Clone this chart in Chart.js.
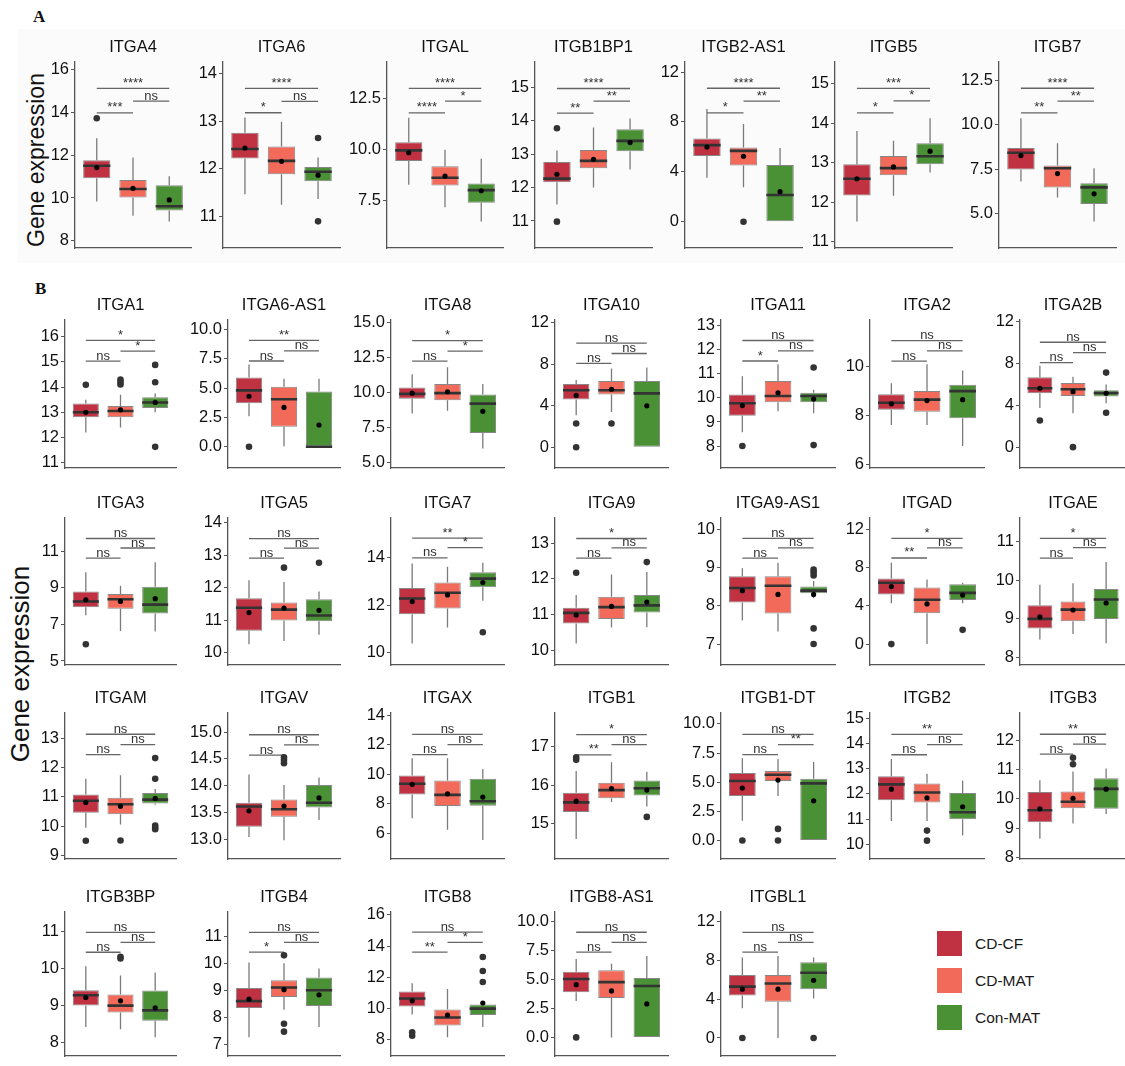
<!DOCTYPE html>
<html>
<head>
<meta charset="utf-8">
<script src="https://cdn.jsdelivr.net/npm/chart.js@4.4.1/dist/chart.umd.min.js"></script>
<style>
  body { margin: 0; background: #fff; width: 1125px; height: 1066px; position: relative; overflow: hidden;
         font-family: "Liberation Sans", Arial, sans-serif; color: #1a1a1a; }
  .panel { position: absolute; }
  .tag { position: absolute; font: bold 17px "Liberation Serif", "Times New Roman", serif; color: #111; }
  .ylab { position: absolute; white-space: nowrap; transform: translate(-50%, -50%) rotate(-90deg); color: #111; }
  .band { position: absolute; left: 18px; top: 29px; width: 1107px; height: 234px; background: #fbfbfb; }
  .key { position: absolute; left: 937px; width: 25px; height: 25px; }
  .keytext { position: absolute; left: 975px; font-size: 15.5px; line-height: 25px; }
</style>
</head>
<body>
<div class="band"></div>
<div class="tag" style="left:33px;top:7px">A</div>
<div class="tag" style="left:35px;top:279px">B</div>
<div class="ylab" style="left:36px;top:160px;font-size:23px">Gene expression</div>
<div class="ylab" style="left:20px;top:664px;font-size:26px">Gene expression</div>
<div id="legend"></div>
<div id="panels"></div>

<script>
// Integrin gene expression per group: whiskers, quartiles, medians, means, outliers.
const GROUPS = ['CD-CF', 'CD-MAT', 'Con-MAT'];
const GROUP_COLORS = ['#c03142', '#f26b5a', '#4a9136'];

const GENES = [
  'ITGA4', 'ITGA6', 'ITGAL', 'ITGB1BP1', 'ITGB2-AS1', 'ITGB5', 'ITGB7',
  'ITGA1', 'ITGA6-AS1', 'ITGA8', 'ITGA10', 'ITGA11', 'ITGA2', 'ITGA2B',
  'ITGA3', 'ITGA5', 'ITGA7', 'ITGA9', 'ITGA9-AS1', 'ITGAD', 'ITGAE',
  'ITGAM', 'ITGAV', 'ITGAX', 'ITGB1', 'ITGB1-DT', 'ITGB2', 'ITGB3',
  'ITGB3BP', 'ITGB4', 'ITGB8', 'ITGB8-AS1', 'ITGBL1'
];

const LOWER = [
  [9.84, 9.17, 8.9], [11.47, 11.25, 11.37], [8.25, 7.15, 6.45], [11.49, 12.0, 12.54], [3.53, 2.77, 0], [11.51, 12.16, 12.75], [6.8, 5.9, 4.55],
  [12.2, 12.4, 13.0], [2.6, 0.05, 0], [8.5, 8.7, 6.0], [3.1, 3.4, 0], [8.57, 9.45, 9.36], [7.6, 7.6, 6.74], [3.75, 3.24, 4.2],
  [7.5, 6.64, 6.61], [10.27, 10.37, 10.56], [10.4, 11.07, 12.2], [10.19, 10.64, 10.65], [7.62, 7.33, 8.2], [4.28, 0, 4.28], [8.47, 8.61, 8.37],
  [9.95, 10.06, 10.73], [13.04, 12.98, 13.36], [7.03, 6.25, 5.57], [14.59, 15.56, 15.44], [1.69, 3.81, 0], [10.92, 10.92, 10.35], [8.64, 9.16, 9.48],
  [8.41, 8.35, 8.13], [7.26, 8.28, 7.64], [9.62, 8.15, 8.81], [3.14, 0, 0], [3.07, 0, 4.05]
];

const Q1 = [
  [10.92, 10.02, 9.42], [12.22, 11.89, 11.74], [9.43, 8.22, 7.37], [12.16, 12.58, 13.09], [5.27, 4.51, 0], [12.17, 12.68, 12.96], [7.48, 6.47, 5.54],
  [12.8, 12.8, 13.17], [3.7, 1.7, 0], [9.55, 9.45, 7.1], [4.6, 5.1, 0], [9.26, 9.82, 9.82], [8.23, 8.14, 7.88], [5.16, 4.89, 4.86],
  [7.94, 7.85, 7.59], [10.68, 11.0, 10.97], [11.63, 11.87, 12.76], [10.75, 10.88, 11.06], [8.09, 7.8, 8.33], [5.2, 3.22, 4.61], [8.75, 8.94, 9.0],
  [10.46, 10.41, 10.78], [13.23, 13.42, 13.59], [8.64, 7.86, 7.88], [15.3, 15.66, 15.73], [3.81, 5.1, 0], [11.75, 11.66, 10.99], [9.2, 9.68, 9.66],
  [8.99, 8.8, 8.58], [8.34, 8.75, 8.42], [10.13, 8.91, 9.58], [3.91, 3.42, 0], [4.37, 3.72, 5.02]
];

const MEDIAN = [
  [11.51, 10.42, 9.61], [12.42, 12.17, 11.94], [9.95, 8.6, 7.99], [12.27, 12.8, 13.4], [6.14, 5.68, 2.15], [12.59, 12.86, 13.16], [8.42, 7.55, 6.47],
  [13.0, 13.05, 13.39], [4.8, 4.05, 0], [9.9, 9.95, 9.2], [5.5, 5.5, 5.2], [9.78, 10.08, 10.08], [8.51, 8.64, 8.99], [5.64, 5.55, 5.19],
  [8.25, 8.37, 8.08], [11.39, 11.33, 11.15], [12.29, 12.53, 13.13], [11.05, 11.21, 11.26], [8.47, 8.53, 8.4], [6.43, 4.64, 5.37], [9.0, 9.24, 9.5],
  [10.87, 10.75, 10.91], [13.61, 13.56, 13.68], [9.36, 8.61, 8.18], [15.55, 15.87, 15.92], [5.1, 5.64, 4.9], [12.38, 12.06, 11.27], [9.61, 9.9, 10.34],
  [9.27, 8.99, 8.86], [8.6, 9.1, 9.0], [10.64, 9.42, 9.99], [5.05, 4.78, 4.45], [5.28, 5.6, 6.71]
];

const Q3 = [
  [11.77, 10.84, 10.59], [12.76, 12.47, 12.04], [10.35, 9.17, 8.32], [12.77, 13.13, 13.75], [6.68, 5.96, 4.56], [12.96, 13.17, 13.49], [8.69, 7.7, 6.71],
  [13.35, 13.25, 13.6], [5.9, 5.1, 4.7], [10.35, 10.6, 9.85], [6.1, 6.4, 6.4], [10.14, 10.7, 10.21], [8.86, 8.99, 9.25], [6.69, 6.15, 5.46],
  [8.8, 8.66, 9.06], [11.68, 11.55, 11.65], [12.73, 12.96, 13.4], [11.19, 11.5, 11.55], [8.78, 8.78, 8.51], [6.86, 5.93, 6.27], [9.35, 9.45, 9.77],
  [11.08, 10.97, 11.13], [13.68, 13.74, 14.01], [9.92, 9.58, 9.69], [15.8, 16.06, 16.12], [5.78, 5.97, 5.29], [12.7, 12.42, 12.04], [10.23, 10.25, 10.7],
  [9.41, 9.29, 9.4], [9.08, 9.37, 9.47], [11.08, 9.93, 10.25], [5.68, 5.82, 5.14], [6.48, 6.48, 7.78]
];

const UPPER = [
  [12.79, 11.89, 11.02], [13.08, 12.99, 12.24], [11.56, 9.98, 9.54], [13.11, 13.8, 14.07], [9.03, 7.83, 5.91], [13.8, 13.55, 14.12], [10.36, 8.96, 7.55],
  [13.5, 13.7, 13.75], [7.0, 5.8, 5.8], [11.3, 11.8, 10.6], [6.5, 7.6, 7.7], [10.9, 11.4, 10.34], [9.31, 10.09, 9.83], [7.8, 6.75, 6.0],
  [9.84, 9.11, 10.39], [12.23, 12.18, 11.89], [13.76, 13.63, 13.8], [11.55, 12.12, 12.19], [8.99, 9.13, 8.65], [8.52, 6.76, 6.43], [9.88, 9.92, 10.47],
  [11.62, 11.74, 11.27], [14.21, 14.01, 14.15], [11.08, 11.08, 10.35], [16.37, 16.6, 16.35], [7.06, 7.0, 6.73], [13.39, 12.8, 12.53], [10.63, 10.93, 11.03],
  [10.06, 9.81, 9.89], [10.03, 10.0, 9.8], [11.61, 11.24, 10.3], [6.78, 6.37, 7.05], [8.27, 8.43, 8.27]
];

const MEANS = [
  [11.42, 10.45, 9.91], [12.44, 12.16, 11.87], [9.83, 8.68, 7.96], [12.4, 12.85, 13.35], [5.99, 5.25, 2.41], [12.59, 12.89, 13.29], [8.26, 7.25, 6.11],
  [13.0, 13.1, 13.39], [4.3, 3.35, 1.85], [9.95, 10.05, 8.65], [5.0, 5.6, 4.0], [9.68, 10.21, 9.95], [8.47, 8.6, 8.64], [5.64, 5.31, 5.16],
  [8.34, 8.25, 8.4], [11.24, 11.38, 11.31], [12.16, 12.44, 12.96], [10.99, 11.23, 11.35], [8.4, 8.3, 8.3], [6.03, 4.21, 5.14], [9.05, 9.23, 9.41],
  [10.81, 10.68, 10.95], [13.53, 13.62, 13.77], [9.32, 8.68, 8.46], [15.58, 15.91, 15.87], [4.5, 5.18, 3.41], [12.19, 11.84, 11.49], [9.66, 10.02, 10.33],
  [9.21, 9.12, 8.93], [8.67, 9.02, 8.83], [10.49, 9.58, 10.35], [4.56, 4.02, 2.9], [5.02, 5.02, 5.93]
];

const OUTLIERS = [
  [[13.73], [], []], [[], [], [12.65, 10.9]], [[], [], []], [[13.78, 10.98], [], []], [[], [0], []], [[], [], []], [[], [], []],
  [[14.09], [14.1, 14.2, 14.3], [14.88, 14.19, 11.63]], [[0], [], []], [[], [], []], [[2.3, 0], [2.3], []], [[8.0], [], [11.26, 8.04]], [[], [], []], [[2.55], [0], [7.14, 3.3]],
  [[5.91], [], []], [[], [12.62], [12.77]], [[], [], [10.87]], [[12.17], [], [12.47]], [[], [], [8.95, 8.88, 8.8, 7.41, 7.0]], [[0], [], [1.49]], [[], [], []],
  [[9.51], [9.52], [12.32, 11.62, 10.03, 9.95, 9.9]], [[], [14.53, 14.48, 14.42], []], [[], [], []], [[16.73, 16.66], [], [15.17]], [[0], [1.0, 0], []], [[], [10.54, 10.14], []], [[], [11.4, 11.18], []],
  [[], [10.32, 10.27], []], [[], [10.29, 7.76, 7.47], []], [[8.47, 8.25], [], [13.3, 12.4, 11.7]], [[0], [], []], [[0], [], [0]]
];

// Pairwise comparisons, in the order CD-CF vs CD-MAT, CD-MAT vs Con-MAT, CD-CF vs Con-MAT
const PAIRS = [[1, 2], [2, 3], [1, 3]];
const BRACKET_Y = [
  [13.98, 14.53, 15.13], [13.18, 13.42, 13.69], [11.79, 12.37, 13.0], [14.23, 14.59, 14.97], [8.73, 9.67, 10.7], [14.26, 14.56, 14.88], [10.67, 11.33, 12.05],
  [15.03, 15.43, 15.85], [7.3, 8.16, 9.05], [12.23, 12.95, 13.7], [8.1, 9.05, 10.05], [11.53, 11.95, 12.38], [10.22, 10.64, 11.06], [8.1, 9.06, 10.05],
  [10.62, 11.17, 11.69], [12.91, 13.22, 13.51], [14.0, 14.43, 14.83], [12.58, 12.87, 13.13], [9.25, 9.52, 9.77], [9.02, 10.08, 11.07], [10.57, 10.84, 11.08],
  [12.44, 12.78, 13.13], [14.57, 14.76, 14.95], [11.32, 12.0, 12.69], [16.79, 17.06, 17.32], [7.36, 8.23, 9.1], [13.56, 13.96, 14.37], [11.52, 11.86, 12.2],
  [10.44, 10.71, 10.98], [10.41, 10.77, 11.14], [13.61, 14.24, 14.89], [7.38, 8.22, 9.1], [8.82, 9.82, 10.86]
];
const SIGNIF = [
  ['***', 'ns', '****'], ['*', 'ns', '****'], ['****', '*', '****'], ['**', '**', '****'], ['*', '**', '****'], ['*', '*', '***'], ['**', '**', '****'],
  ['ns', '*', '*'], ['ns', 'ns', '**'], ['ns', '*', '*'], ['ns', 'ns', 'ns'], ['*', 'ns', 'ns'], ['ns', 'ns', 'ns'], ['ns', 'ns', 'ns'],
  ['ns', 'ns', 'ns'], ['ns', 'ns', 'ns'], ['ns', '*', '**'], ['ns', 'ns', '*'], ['ns', 'ns', 'ns'], ['**', 'ns', '*'], ['ns', 'ns', '*'],
  ['ns', 'ns', 'ns'], ['ns', 'ns', 'ns'], ['ns', 'ns', 'ns'], ['**', 'ns', '*'], ['ns', '**', 'ns'], ['ns', 'ns', '**'], ['ns', 'ns', '**'],
  ['ns', 'ns', 'ns'], ['*', 'ns', 'ns'], ['**', '*', 'ns'], ['ns', 'ns', 'ns'], ['ns', 'ns', 'ns']
];

const Y_TICKS = [
  [8, 10, 12, 14, 16], [11, 12, 13, 14], [7.5, 10, 12.5], [11, 12, 13, 14, 15], [0, 4, 8, 12], [11, 12, 13, 14, 15], [5, 7.5, 10, 12.5],
  [11, 12, 13, 14, 15, 16], [0, 2.5, 5, 7.5, 10], [5, 7.5, 10, 12.5, 15], [0, 4, 8, 12], [8, 9, 10, 11, 12, 13], [6, 8, 10], [0, 4, 8, 12],
  [5, 7, 9, 11], [10, 11, 12, 13, 14], [10, 12, 14], [10, 11, 12, 13], [7, 8, 9, 10], [0, 4, 8, 12], [8, 9, 10, 11],
  [9, 10, 11, 12, 13], [13, 13.5, 14, 14.5, 15], [6, 8, 10, 12, 14], [15, 16, 17], [0, 2.5, 5, 7.5, 10], [10, 11, 12, 13, 14, 15], [8, 9, 10, 11, 12],
  [8, 9, 10, 11], [7, 8, 9, 10, 11], [8, 10, 12, 14, 16], [0, 2.5, 5, 7.5, 10], [0, 4, 8, 12]
];
const Y_RANGE = [
  [7.66, 16.37], [10.34, 14.25], [5.14, 14.31], [10.19, 15.77], [-2.1, 12.82], [10.84, 15.55], [3.06, 13.54],
  [10.79, 16.67], [-1.81, 10.81], [4.61, 15.18], [-2.0, 12.3], [7.09, 13.24], [5.84, 11.91], [-2.0, 12.2],
  [4.78, 12.82], [9.63, 14.15], [9.49, 15.69], [9.59, 13.71], [6.45, 10.31], [-2.19, 13.23], [7.81, 11.61],
  [8.89, 13.86], [12.63, 15.36], [4.28, 14.15], [14.07, 17.89], [-1.58, 10.95], [9.41, 15.23], [7.95, 12.93],
  [7.62, 11.54], [6.57, 11.9], [6.95, 16.2], [-1.61, 10.87], [-1.85, 12.97]
];

// Panel grid: plot-area left edges, widths, tops and heights in page pixels
const ROW_A = { top: 62, height: 194, xs: [75, 223, 387, 535, 685, 835, 999], widths: [116, 117, 116, 117, 117, 117, 117] };
const ROW_B_TOPS = [320, 518, 713, 912];
const ROW_B_HEIGHTS = [156, 155, 154, 152];
const ROW_B_XS = [65, 228, 391, 555, 721, 870, 1020];
const ROW_B_WIDTHS = [111, 112, 113, 113, 114, 114, 106];

const FONT = '"Liberation Sans", Arial, sans-serif';
const GUTTER_LEFT = 45, GUTTER_TOP = 26, GUTTER_RIGHT = 6, GUTTER_BOTTOM = 12;
const BOX_WIDTH = 0.75;

Chart.defaults.font.family = FONT;
Chart.defaults.color = '#1a1a1a';

const bracketText = {
  id: 'bracketText',
  afterDatasetsDraw(chart, args, opts) {
    const { ctx, scales: { x, y } } = chart;
    ctx.save();
    ctx.font = '13px ' + FONT;
    ctx.fillStyle = '#333';
    ctx.textAlign = 'center';
    ctx.textBaseline = 'alphabetic';
    PAIRS.forEach(([a, b], k) => {
      ctx.fillText(opts.labels[k], x.getPixelForValue((a + b) / 2), y.getPixelForValue(opts.heights[k]) - 1.5);
    });
    ctx.restore();
  }
};

// line segments separated by gaps
function segments(list) {
  const pts = [];
  list.forEach(([x0, y0, x1, y1]) => pts.push({ x: x0, y: y0 }, { x: x1, y: y1 }, { x: x1, y: null }));
  return pts;
}

function lineSet(data, color, width, order) {
  return { type: 'line', data, borderColor: color, borderWidth: width, pointRadius: 0, fill: false,
           tension: 0, spanGaps: false, order, borderCapStyle: 'butt' };
}

function drawPanel(g, left, top, width, height) {
  const box = document.createElement('div');
  box.className = 'panel';
  const cw = GUTTER_LEFT + width + GUTTER_RIGHT;
  const ch = GUTTER_TOP + height + GUTTER_BOTTOM;
  box.style.left = (left - GUTTER_LEFT) + 'px';
  box.style.top = (top - GUTTER_TOP) + 'px';
  const canvas = document.createElement('canvas');
  canvas.width = cw; canvas.height = ch;
  canvas.style.width = cw + 'px'; canvas.style.height = ch + 'px';
  box.appendChild(canvas);
  document.getElementById('panels').appendChild(box);

  const idx = [0, 1, 2];
  const ticks = Y_TICKS[g];
  const oneDecimal = ticks.some(v => !Number.isInteger(v));
  const half = BOX_WIDTH / 2;

  const whiskers = segments(idx.flatMap(i => [
    [i + 1, LOWER[g][i], i + 1, Q1[g][i]],
    [i + 1, Q3[g][i], i + 1, UPPER[g][i]]
  ]));
  const medians = segments(idx.map(i => [i + 1 - half, MEDIAN[g][i], i + 1 + half, MEDIAN[g][i]]));
  const brackets = segments(PAIRS.map(([a, b], k) => [a, BRACKET_Y[g][k], b, BRACKET_Y[g][k]]));
  const outliers = idx.flatMap(i => OUTLIERS[g][i].map(v => ({ x: i + 1, y: v })));
  const means = idx.map(i => ({ x: i + 1, y: MEANS[g][i] }));

  new Chart(canvas, {
    type: 'bar',
    data: {
      datasets: [
        lineSet(whiskers, '#7a7a7a', 1.3, 6),
        {
          type: 'bar',
          data: idx.map(i => ({ x: i + 1, y: [Q1[g][i], Q3[g][i]] })),
          backgroundColor: GROUP_COLORS,
          borderColor: 'rgba(95,95,95,0.75)',
          borderWidth: 1,
          borderSkipped: false,
          barPercentage: BOX_WIDTH,
          categoryPercentage: 1,
          order: 5
        },
        lineSet(medians, '#333333', 2.6, 4),
        lineSet(brackets, '#666666', 1.3, 4),
        { type: 'scatter', data: outliers, pointRadius: 3.3, pointBackgroundColor: '#333', pointBorderWidth: 0, order: 2 },
        { type: 'scatter', data: means, pointRadius: 2.6, pointBackgroundColor: '#000', pointBorderWidth: 0, order: 1 }
      ]
    },
    options: {
      responsive: false,
      animation: false,
      events: [],
      layout: { padding: { left: 0, right: GUTTER_RIGHT, top: 0, bottom: GUTTER_BOTTOM } },
      scales: {
        x: {
          type: 'linear', min: 0.4, max: 3.6, offset: false,
          afterBuildTicks: s => { s.ticks = [1, 2, 3].map(v => ({ value: v })); },
          ticks: { display: false },
          grid: { display: false },
          border: { display: true, color: '#555', width: 1.3 }
        },
        y: {
          type: 'linear', position: 'left', min: Y_RANGE[g][0], max: Y_RANGE[g][1],
          afterBuildTicks: s => { s.ticks = ticks.map(v => ({ value: v })); },
          afterFit: s => { s.width = GUTTER_LEFT; },
          ticks: {
            font: { size: 16.5 }, color: '#111', padding: 2,
            callback: v => oneDecimal ? Number(v).toFixed(1) : String(v)
          },
          grid: { display: true, drawOnChartArea: false, drawTicks: true, tickLength: 4, color: '#555', lineWidth: 1 },
          border: { display: true, color: '#555', width: 1.3 }
        }
      },
      plugins: {
        legend: { display: false },
        tooltip: { enabled: false },
        title: {
          display: true, text: GENES[g], fullSize: false, color: '#111',
          font: { size: 16.5, weight: 'normal' }, padding: { top: 2, bottom: 4 }
        },
        bracketText: { heights: BRACKET_Y[g], labels: SIGNIF[g] }
      }
    },
    plugins: [bracketText]
  });
}

ROW_A.xs.forEach((x, c) => drawPanel(c, x, ROW_A.top, ROW_A.widths[c], ROW_A.height));

let g = 7;
ROW_B_TOPS.forEach((top, r) => {
  ROW_B_XS.forEach((x, c) => {
    if (g >= GENES.length) return;
    drawPanel(g, x, top, ROW_B_WIDTHS[c], ROW_B_HEIGHTS[r]);
    g++;
  });
});

// group key
const legend = document.getElementById('legend');
GROUPS.forEach((name, i) => {
  const top = 931 + i * 37;
  legend.insertAdjacentHTML('beforeend',
    `<div class="key" style="top:${top}px;background:${GROUP_COLORS[i]}"></div>` +
    `<div class="keytext" style="top:${top}px">${name}</div>`);
});
</script>
</body>
</html>
